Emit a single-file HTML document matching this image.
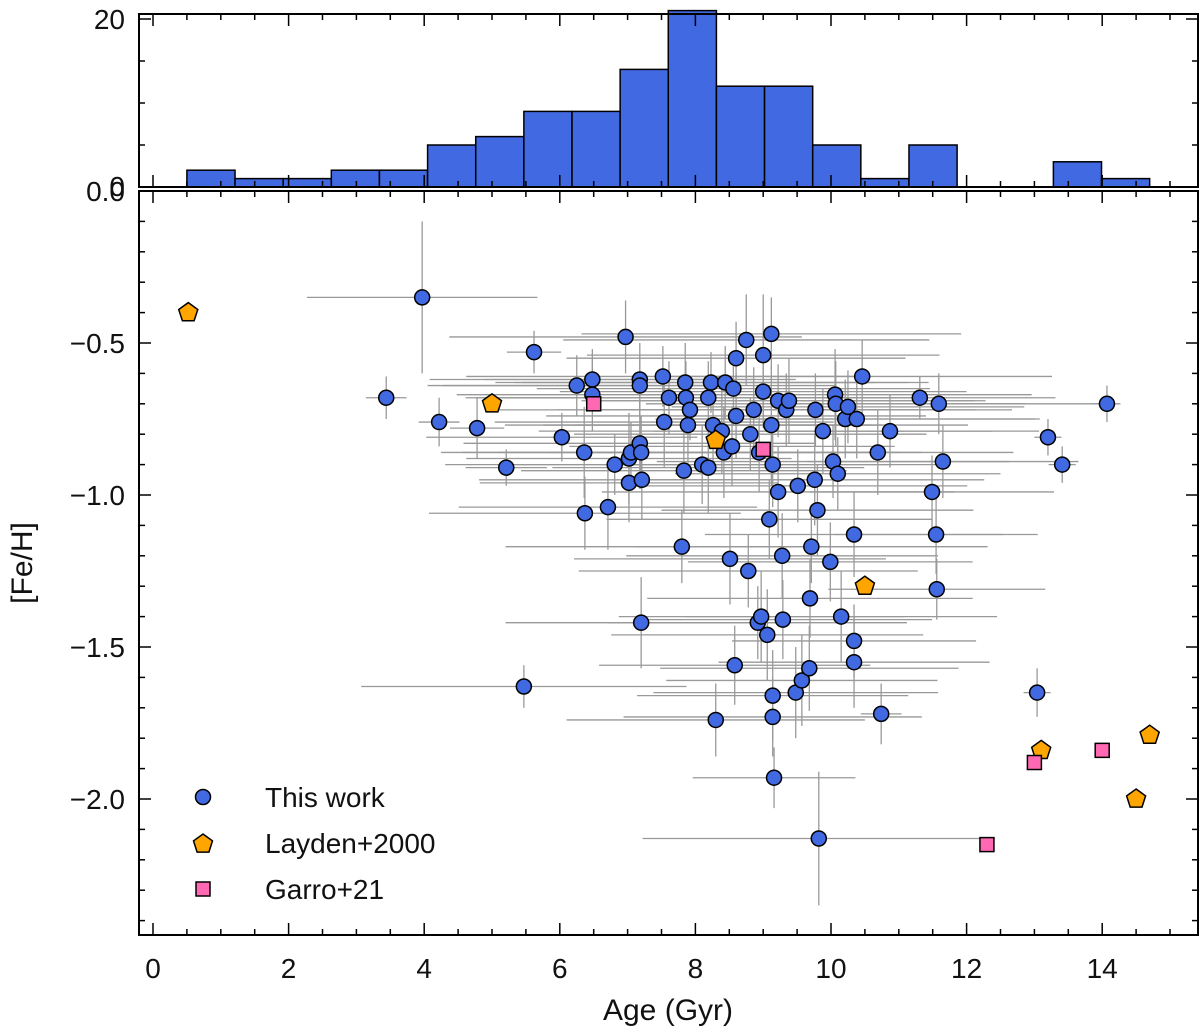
<!DOCTYPE html>
<html><head><meta charset="utf-8"><style>
html,body{margin:0;padding:0;background:#fff}
svg text{font-family:"Liberation Sans","DejaVu Sans",sans-serif;fill:#111}
</style></head><body>
<svg id="c" width="1200" height="1029" xmlns="http://www.w3.org/2000/svg"></svg>
<script>
// ---- data ----
const histEdgesStart = 0.5;
const histBinWidth = 0.71;
const histCounts = [2,1,1,2,2,5,6,9,9,14,21,12,12,5,1,5,0,0,3,1];
const thisAge = [3.97,3.44,4.22,4.78,5.21,5.62,5.47,6.03,6.25,6.37,6.36,6.48,6.48,6.71,6.81,6.97,7.02,7.02,7.05,7.18,7.18,7.18,7.20,7.21,7.20,7.52,7.54,7.61,7.85,7.86,7.89,7.92,7.83,7.80,8.10,8.19,8.19,8.23,8.26,8.30,8.39,8.44,8.42,8.54,8.56,8.60,8.60,8.51,8.58,8.78,8.75,8.81,8.86,8.94,8.92,8.97,9.00,9.00,9.06,9.09,9.12,9.12,9.14,9.14,9.14,9.16,9.22,9.22,9.28,9.29,9.34,9.38,9.48,9.51,9.57,9.68,9.69,9.71,9.76,9.77,9.80,9.82,9.88,9.99,10.03,10.06,10.07,10.10,10.15,10.21,10.25,10.34,10.34,10.34,10.38,10.46,10.69,10.74,10.87,11.31,11.49,11.55,11.56,11.59,11.65,13.04,13.20,13.41,14.07];
const thisFeH = [-0.35,-0.68,-0.76,-0.78,-0.91,-0.53,-1.63,-0.81,-0.64,-1.06,-0.86,-0.62,-0.67,-1.04,-0.90,-0.48,-0.88,-0.96,-0.86,-0.62,-0.64,-0.83,-0.86,-0.95,-1.42,-0.61,-0.76,-0.68,-0.63,-0.68,-0.77,-0.72,-0.92,-1.17,-0.90,-0.91,-0.68,-0.63,-0.77,-1.74,-0.79,-0.63,-0.86,-0.84,-0.65,-0.74,-0.55,-1.21,-1.56,-1.25,-0.49,-0.80,-0.72,-0.86,-1.42,-1.40,-0.66,-0.54,-1.46,-1.08,-0.47,-0.77,-0.90,-1.66,-1.73,-1.93,-0.99,-0.69,-1.20,-1.41,-0.72,-0.69,-1.65,-0.97,-1.61,-1.57,-1.34,-1.17,-0.95,-0.72,-1.05,-2.13,-0.79,-1.22,-0.89,-0.67,-0.70,-0.93,-1.40,-0.75,-0.71,-1.13,-1.48,-1.55,-0.75,-0.61,-0.86,-1.72,-0.79,-0.68,-0.99,-1.13,-1.31,-0.70,-0.89,-1.65,-0.81,-0.90,-0.70];
const thisAgeErr = [1.7,0.3,0.3,0.4,0.6,0.4,2.4,2.0,2.2,2.3,1.8,2.4,2.0,2.2,2.5,2.6,2.4,2.2,2.8,2.3,2.9,2.6,2.1,2.4,2.0,2.9,2.5,3.0,2.8,3.1,2.7,2.9,2.4,2.6,2.8,2.3,3.1,2.9,2.5,2.2,2.7,3.0,2.6,2.4,2.9,2.8,2.5,2.3,2.0,2.5,2.7,2.6,2.9,2.4,2.2,2.1,3.0,2.6,2.3,2.4,2.8,2.9,2.5,2.0,2.2,1.2,2.6,2.9,2.3,2.2,2.8,2.9,2.1,2.5,2.0,2.2,2.4,2.6,2.5,2.9,2.3,2.6,2.5,2.1,2.6,2.9,2.8,2.4,2.3,2.8,2.6,2.2,1.8,2.0,2.7,2.8,2.0,0.3,2.2,2.0,1.8,1.5,1.6,2.4,2.0,0.2,0.2,0.2,0.2];
const thisFeHErr = [0.25,0.07,0.08,0.1,0.06,0.07,0.07,0.08,0.1,0.12,0.15,0.1,0.12,0.14,0.1,0.12,0.15,0.13,0.1,0.12,0.1,0.15,0.12,0.13,0.15,0.1,0.15,0.12,0.13,0.12,0.15,0.1,0.14,0.12,0.13,0.15,0.12,0.1,0.15,0.12,0.14,0.12,0.15,0.13,0.12,0.14,0.12,0.15,0.13,0.12,0.15,0.12,0.14,0.13,0.12,0.15,0.12,0.2,0.15,0.13,0.12,0.2,0.14,0.15,0.13,0.1,0.15,0.12,0.14,0.13,0.12,0.14,0.15,0.12,0.15,0.14,0.13,0.12,0.15,0.12,0.15,0.22,0.14,0.13,0.12,0.15,0.14,0.12,0.15,0.13,0.12,0.14,0.12,0.15,0.13,0.12,0.14,0.1,0.12,0.07,0.12,0.13,0.1,0.1,0.12,0.08,0.06,0.06,0.06];
const laydenAge = [0.52,5.0,8.3,10.5,13.1,14.7,14.5];
const laydenFeH = [-0.40,-0.70,-0.82,-1.30,-1.84,-1.79,-2.00];
const garroAge = [6.5,9.0,13.0,14.0,12.3];
const garroFeH = [-0.70,-0.85,-1.88,-1.84,-2.15];
const xTicks = [0,2,4,6,8,10,12,14];
const yTicks = [-0.5,-1.0,-1.5,-2.0];
const yTickLabels = ["\u22120.5","\u22121.0","\u22121.5","\u22122.0"];

// ---- layout ----
const NS="http://www.w3.org/2000/svg", svg=document.getElementById('c');
const L=139,R=1198,MT=191,MB=935,HT=14,HB=187;
const X=a=>153+(a)*67.8;
const Y=f=>MT-f*304;
const HY=n=>HB-n*8.4;
function mk(t,at,p){const e=document.createElementNS(NS,t);for(const k in at)e.setAttribute(k,at[k]);(p||svg).appendChild(e);return e;}
function g(name){const e=mk('g',{});return e;}

// histogram
const hg=g('age-histogram');
histCounts.forEach((n,i)=>{if(!n)return;const x0=X(histEdgesStart+i*histBinWidth),x1=X(histEdgesStart+(i+1)*histBinWidth);
 const r=mk('rect',{x:x0,y:HY(n),width:x1-x0,height:HB-HY(n),fill:'#4169e1',stroke:'#000','stroke-width':1.5},hg);
 });

// error bars
const eg=g('error-bars');
thisAge.forEach((a,i)=>{
 mk('line',{x1:X(a-thisAgeErr[i]),x2:X(a+thisAgeErr[i]),y1:Y(thisFeH[i]),y2:Y(thisFeH[i]),stroke:'#999','stroke-width':1.3},eg);
 mk('line',{x1:X(a),x2:X(a),y1:Y(thisFeH[i]-thisFeHErr[i]),y2:Y(thisFeH[i]+thisFeHErr[i]),stroke:'#999','stroke-width':1.3},eg);});
// points
const pg=g('this-work-series');
thisAge.forEach((a,i)=>{const c=mk('circle',{cx:X(a),cy:Y(thisFeH[i]),r:7.5,fill:'#4169e1',stroke:'#000','stroke-width':1.5},pg);
 });
function pent(cx,cy,r,p){let pts=[];for(let k=0;k<5;k++){const t=-Math.PI/2+k*2*Math.PI/5;pts.push((cx+r*Math.cos(t)).toFixed(1)+','+(cy+r*Math.sin(t)).toFixed(1));}
 return mk('polygon',{points:pts.join(' '),fill:'#ffa500',stroke:'#000','stroke-width':1.5},p);}
const lg=g('layden-series');
laydenAge.forEach((a,i)=>{const e=pent(X(a),Y(laydenFeH[i]),10,lg);});
const gg=g('garro-series');
garroAge.forEach((a,i)=>{const e=mk('rect',{x:X(a)-7,y:Y(garroFeH[i])-7,width:14,height:14,fill:'#ff69b4',stroke:'#000','stroke-width':1.5},gg);
 });

// frames
const fg=g('axes-frames');
mk('rect',{x:L,y:HT,width:R-L,height:HB-HT,fill:'none',stroke:'#000','stroke-width':2},fg);
mk('rect',{x:L,y:MT,width:R-L,height:MB-MT,fill:'none',stroke:'#000','stroke-width':2},fg);
// x ticks
const tg=g('ticks');
for(let v=0;v<=15.01;v+=0.5){const x=X(v),maj=Math.abs(v-Math.round(v/2)*2)<1e-6,len=maj?12:6;
 [[HB,-1],[HT,1],[MB,-1],[MT,1]].forEach(([y,d])=>mk('line',{x1:x,x2:x,y1:y,y2:y+d*len,stroke:'#000','stroke-width':1.5},tg));}
for(let i=1;i<=24;i++){const v=-i*0.1,y=Y(v),maj=i%5==0,len=maj?12:6;
 mk('line',{x1:L,x2:L+len,y1:y,y2:y,stroke:'#000','stroke-width':1.5},tg);mk('line',{x1:R,x2:R-len,y1:y,y2:y,stroke:'#000','stroke-width':1.5},tg);}
for(let n=5;n<=20;n+=5){const y=HY(n),len=n%20==0?12:6;
 mk('line',{x1:L,x2:L+len,y1:y,y2:y,stroke:'#000','stroke-width':1.5},tg);mk('line',{x1:R,x2:R-len,y1:y,y2:y,stroke:'#000','stroke-width':1.5},tg);}
// labels
const lab=g('tick-labels');
xTicks.forEach(v=>{const t=mk('text',{x:X(v),y:978,'font-size':28,'text-anchor':'middle'},lab);t.textContent=v;});
yTicks.forEach((v,i)=>{const t=mk('text',{x:125,y:Y(v)+10,'font-size':28,'text-anchor':'end'},lab);t.textContent=yTickLabels[i];});
let t=mk('text',{x:125,y:MT+10,'font-size':28,'text-anchor':'end'},lab);t.textContent='0.0';
t=mk('text',{x:125,y:HB+9,'font-size':28,'text-anchor':'end'},lab);t.textContent='0';
t=mk('text',{x:125,y:HY(20)+10,'font-size':28,'text-anchor':'end'},lab);t.textContent='20';
t=mk('text',{x:668,y:1020,'font-size':30,'text-anchor':'middle'});t.textContent='Age (Gyr)';

t=mk('text',{x:0,y:0,'font-size':30,'text-anchor':'middle',transform:'translate(32,563) rotate(-90)'});t.textContent='[Fe/H]';

// legend
const leg=g('legend');
mk('circle',{cx:203,cy:797,r:7.5,fill:'#4169e1',stroke:'#000','stroke-width':1.5},leg);
pent(203,844,10,leg);
mk('rect',{x:196,y:882,width:14,height:14,fill:'#ff69b4',stroke:'#000','stroke-width':1.5},leg);
[['This work',807],['Layden+2000',853],['Garro+21',899]].forEach(([s,y])=>{const e=mk('text',{x:265,y:y,'font-size':28},leg);e.textContent=s;
 });
</script>
</body></html>
